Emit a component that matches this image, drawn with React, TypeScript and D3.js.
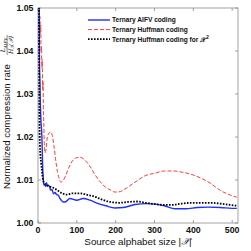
import { useEffect, useRef } from 'react';
import * as d3 from 'd3';

// alphabet size, normalized rate
const aifvSizes = [2, 3, 4, 5, 6, 7, 8, 9, 10, 11, 12, 13, 14, 16, 18, 20, 22, 24, 27, 30, 33, 36, 40, 44, 48, 52, 56, 60, 65, 70, 82, 100, 116, 134, 150, 175, 198, 220, 250, 280, 302, 325, 353, 380, 410, 438, 470, 500, 512];
const aifvRates = [1.07, 1.05, 1.036, 1.033, 1.028, 1.025, 1.023, 1.022, 1.02, 1.017, 1.013, 1.0112, 1.0095, 1.0088, 1.0088, 1.0085, 1.0094, 1.0086, 1.0088, 1.0084, 1.0076, 1.0078, 1.0068, 1.0071, 1.0066, 1.0065, 1.0058, 1.0053, 1.0049, 1.0049, 1.0057, 1.0053, 1.0057, 1.0053, 1.0047, 1.004, 1.0035, 1.0036, 1.0043, 1.0045, 1.0044, 1.004, 1.0033, 1.0033, 1.0036, 1.0037, 1.0036, 1.0034, 1.0034];

const huffSizes = [2, 3, 4, 5, 6, 7, 8, 9, 10, 11, 12, 13, 14, 15, 16, 17, 18, 20, 23, 26, 29, 33, 37, 41, 45, 50, 55, 59, 65, 72, 80, 90, 100, 108, 120, 135, 147, 160, 173, 186, 198, 212, 224, 250, 276, 302, 327, 350, 366, 392, 418, 443, 469, 495, 512];
const huffRates = [1.07, 1.052, 1.047, 1.048, 1.044, 1.046, 1.04, 1.041, 1.036, 1.038, 1.031, 1.033, 1.026, 1.023, 1.019, 1.017, 1.0163, 1.0168, 1.0193, 1.0205, 1.021, 1.0212, 1.0203, 1.018, 1.015, 1.012, 1.0102, 1.0095, 1.0099, 1.0112, 1.013, 1.0146, 1.0152, 1.0153, 1.0147, 1.013, 1.0112, 1.0096, 1.0084, 1.0077, 1.0072, 1.0073, 1.0079, 1.0095, 1.011, 1.0116, 1.0121, 1.0121, 1.0119, 1.0114, 1.0105, 1.0093, 1.0076, 1.0065, 1.006];

const huff2Sizes = [1, 2, 3, 4, 5, 6, 8, 10, 13, 17, 23, 30, 36, 49, 62, 75, 90, 108, 129, 150, 160, 186, 210, 232, 255, 276, 300, 327, 345, 370, 392, 420, 443, 470, 495, 512];
const huff2Rates = [1.12, 1.07, 1.035, 1.022, 1.018, 1.016, 1.014, 1.0123, 1.01, 1.0092, 1.0088, 1.0085, 1.0083, 1.0077, 1.0069, 1.0066, 1.0069, 1.0069, 1.0065, 1.006, 1.0056, 1.0049, 1.0047, 1.0049, 1.005, 1.0047, 1.0044, 1.0042, 1.0042, 1.0045, 1.0047, 1.0047, 1.0047, 1.0045, 1.0042, 1.004];

const xTicks = [0, 100, 200, 300, 400, 500];
const yTicks = [1.0, 1.01, 1.02, 1.03, 1.04, 1.05];

const legendLabels = ['Ternary AIFV coding', 'Ternary Huffman coding', 'Ternary Huffman coding for '];

const FONT = '"Liberation Sans", Arial, sans-serif';
const MATH = '"DejaVu Serif", serif';

export default function App() {
  const svgRef = useRef<SVGSVGElement>(null);

  useEffect(() => {
    if (!svgRef.current) return;
    const svg = d3.select(svgRef.current);
    svg.selectAll('*').remove();

    const left = 38, right = 238, top = 8, bottom = 223;
    const x = d3.scaleLinear().domain([0, 515]).range([left, right]);
    const y = d3.scaleLinear().domain([1.0, 1.05]).range([bottom, top]);

    svg.append('rect').attr('width', 251).attr('height', 251).attr('fill', '#fff');

    svg.append('defs').append('clipPath').attr('id', 'plotclip')
      .append('rect')
      .attr('x', left).attr('y', top)
      .attr('width', right - left).attr('height', bottom - top);

    // frame
    svg.append('rect')
      .attr('x', left).attr('y', top)
      .attr('width', right - left).attr('height', bottom - top)
      .attr('fill', 'none').attr('stroke', '#8c8c8c').attr('stroke-width', 0.8);

    // ticks (inward, on all four sides)
    const tk = 3;
    xTicks.forEach((t) => {
      const px = x(t);
      svg.append('line').attr('x1', px).attr('x2', px).attr('y1', bottom).attr('y2', bottom - tk)
        .attr('stroke', '#8c8c8c').attr('stroke-width', 0.8);
      svg.append('line').attr('x1', px).attr('x2', px).attr('y1', top).attr('y2', top + tk)
        .attr('stroke', '#8c8c8c').attr('stroke-width', 0.8);
      svg.append('text').attr('x', px).attr('y', 233)
        .attr('text-anchor', 'middle').attr('font-family', FONT)
        .attr('font-size', 8.8).attr('font-weight', 'bold').attr('fill', '#111')
        .text(String(t));
    });
    yTicks.forEach((t) => {
      const py = y(t);
      svg.append('line').attr('x1', left).attr('x2', left + tk).attr('y1', py).attr('y2', py)
        .attr('stroke', '#8c8c8c').attr('stroke-width', 0.8);
      svg.append('line').attr('x1', right).attr('x2', right - tk).attr('y1', py).attr('y2', py)
        .attr('stroke', '#8c8c8c').attr('stroke-width', 0.8);
      svg.append('text').attr('x', left - 4.5).attr('y', py + 3.2)
        .attr('text-anchor', 'end').attr('font-family', FONT)
        .attr('font-size', 8.8).attr('font-weight', 'bold').attr('fill', '#111')
        .text(d3.format('.2f')(t));
    });

    const line = d3.line<[number, number]>()
      .x((d) => x(d[0]))
      .y((d) => y(d[1]))
      .curve(d3.curveMonotoneX);

    const plot = svg.append('g').attr('clip-path', 'url(#plotclip)');

    const series = [
      { sizes: huffSizes, rates: huffRates, color: '#ff3b3b', width: 1, dash: '4,2' },
      { sizes: aifvSizes, rates: aifvRates, color: '#1f2fff', width: 1.4, dash: null },
      { sizes: huff2Sizes, rates: huff2Rates, color: '#000', width: 1.8, dash: '1.6,1.4' },
    ];
    series.forEach((s) => {
      const pts = s.sizes.map((v, i) => [v, s.rates[i]] as [number, number]);
      const p = plot.append('path')
        .attr('d', line(pts) as string)
        .attr('fill', 'none')
        .attr('stroke', s.color)
        .attr('stroke-width', s.width);
      if (s.dash) p.attr('stroke-dasharray', s.dash);
    });

    // legend
    const lg = svg.append('g');
    lg.append('rect').attr('x', 84).attr('y', 13).attr('width', 152).attr('height', 32).attr('fill', '#fff');
    const legendStyles = [series[1], series[0], series[2]];
    legendLabels.forEach((lab, i) => {
      const ly = 20 + i * 9.6;
      const s = legendStyles[i];
      const l = lg.append('line').attr('x1', 88).attr('x2', 110).attr('y1', ly).attr('y2', ly)
        .attr('stroke', s.color).attr('stroke-width', s.width);
      if (s.dash) l.attr('stroke-dasharray', s.dash);
      const t = lg.append('text').attr('x', 112).attr('y', ly + 2.4)
        .attr('font-family', FONT).attr('font-size', 6.6).attr('font-weight', 'bold').attr('fill', '#111')
        .text(lab);
      if (i === 2) {
        t.append('tspan').attr('font-style', 'italic').attr('font-family', MATH).text('\u{1D4B3}');
        t.append('tspan').attr('font-size', 4.6).attr('dy', -2.6).text('2');
      }
    });

    // x label
    const xl = svg.append('text').attr('x', 138).attr('y', 244.5)
      .attr('text-anchor', 'middle').attr('font-family', FONT).attr('font-size', 9.8).attr('fill', '#111')
      .text('Source alphabet size |');
    xl.append('tspan').attr('font-family', MATH).attr('font-style', 'italic').text('\u{1D4B3}');
    xl.append('tspan').text('|');

    // y label
    const yl = svg.append('g').attr('transform', 'translate(9.5,189) rotate(-90)');
    yl.append('text').attr('x', 0).attr('y', 0)
      .attr('font-family', FONT).attr('font-size', 9.6).attr('fill', '#111')
      .text('Normalized compression rate');
    const fx = 144;
    yl.append('text').attr('x', fx).attr('y', -4.2).attr('text-anchor', 'middle')
      .attr('font-family', MATH).attr('font-style', 'italic').attr('font-size', 6.2).attr('fill', '#111')
      .text('L')
      .append('tspan').attr('font-size', 4.2).attr('dy', 1.3).text('AIFV');
    yl.append('line').attr('x1', fx - 10).attr('x2', fx + 10).attr('y1', -2.4).attr('y2', -2.4)
      .attr('stroke', '#111').attr('stroke-width', 0.5);
    const den = yl.append('text').attr('x', fx).attr('y', 3.8).attr('text-anchor', 'middle')
      .attr('font-family', MATH).attr('font-style', 'italic').attr('font-size', 6.2).attr('fill', '#111')
      .text('H');
    den.append('tspan').attr('font-size', 4.2).attr('dy', 1).text('3');
    den.append('tspan').attr('dy', -1).text('(\u{1D4B3})');
  }, []);

  return (
    <svg
      ref={svgRef}
      width={251}
      height={251}
      style={{ position: 'absolute', left: 0, top: 0 }}
    />
  );
}
